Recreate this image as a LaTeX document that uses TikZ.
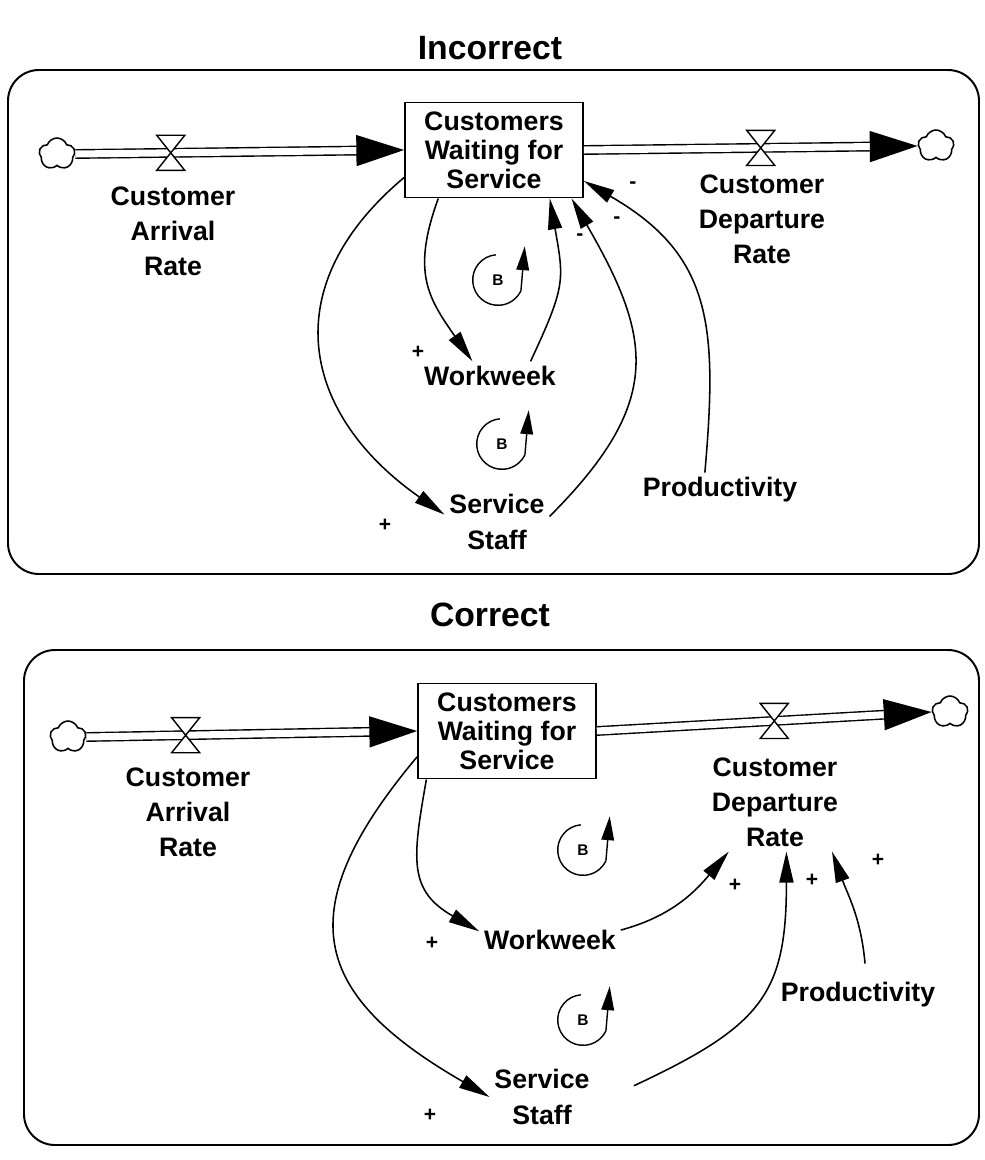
\documentclass[tikz,border=0pt]{standalone}
\usepackage{fontspec}
\setmainfont{Liberation Sans}
\usetikzlibrary{arrows.meta,calc,shapes.symbols}

\begin{document}
\begin{tikzpicture}[
  x=0.25mm, y=0.25mm,
  >={Triangle[length=22pt,width=10pt]},
  every node/.style={font=\bfseries\fontsize{19}{25}\selectfont},
  heading/.style={font=\bfseries\fontsize{24}{30}\selectfont},
  varname/.style={align=center},
  panel/.style={draw, line width=1.4pt, rounded corners=22pt},
  stock/.style={
    draw,
    line width=1.2pt,
    align=center,
    minimum width=44.5mm,
    minimum height=23.8mm,
    inner sep=0pt,
    font=\bfseries\fontsize{19}{20.5}\selectfont
  },
  sink/.style={
    cloud, cloud puffs=5, cloud puff arc=140, cloud ignores aspect,
    draw, line width=1.1pt,
    minimum width=9mm, minimum height=8mm,
    inner sep=0pt
  },
  pipe/.style={draw, double, double distance=5pt, line width=1pt, shorten >=30pt},
  flowtip/.style={-{Triangle[length=34pt,width=22pt]}, line width=1pt},
  link/.style={->, line width=1.1pt},
  sign/.style={font=\bfseries\fontsize{15}{15}\selectfont},
  valve/.pic={
    \filldraw[fill=white, line width=1pt]
      (-10pt,12.5pt) -- (10pt,12.5pt) -- (-10pt,-12.5pt) -- (10pt,-12.5pt) -- cycle;
  },
  loopmark/.pic={
    \node[font=\bfseries\fontsize{11}{11}\selectfont] (-b) {B};
    \draw[-{Triangle[length=17pt,width=9pt]}, line width=1pt]
      (95:18pt) arc[start angle=95, end angle=335, radius=18pt] -- (19pt,24pt);
  }
]
  \useasboundingbox (0,0) rectangle (984,-1160);

  % ---------- incorrect ----------
  \node[heading] (head1) at (490,-48) {Incorrect};
  \draw[panel] (8,-70) rectangle (979,-574);

  \node[stock] (stock1) at (494,-150) {Customers\\Waiting for\\Service};
  \node[sink] (srcA1) at (57,-154) {};
  \node[sink] (snkB1) at (936,-146) {};

  \draw[pipe] (srcA1.east) -- (stock1.west);
  \draw[flowtip] ($(stock1.west)!12pt!(srcA1.east)$) -- (stock1.west);
  \coordinate (vA1) at ($(srcA1.east)!0.29!(stock1.west)$);
  \pic at (vA1) {valve};

  \draw[pipe] (stock1.east) -- (snkB1.west);
  \draw[flowtip] ($(snkB1.west)!12pt!(stock1.east)$) -- (snkB1.west);
  \coordinate (vB1) at ($(stock1.east)!0.53!(snkB1.west)$);
  \pic at (vB1) {valve};

  \node[varname] (arr1) at (173,-231) {Customer\\Arrival\\Rate};
  \node[varname] (dep1) at (762,-219) {Customer\\Departure\\Rate};
  \node (week1) at (490,-376) {Workweek};
  \node[varname] (staff1) at (497,-522) {Service\\Staff};
  \node (prod1) at (720,-490) {Productivity};

  \draw[link] (stock1.221) to[out=-110,in=125,looseness=1.2] (week1.140);
  \draw[link] (week1.20) to[out=65,in=-80,looseness=1.3] (stock1.-41);
  \draw[link] (stock1.197) to[out=-140,in=145,looseness=1.3] (staff1.172);
  \draw[link] (staff1.6) to[out=45,in=-60,looseness=1.3] (stock1.-32);
  \draw[link] (prod1.131) to[out=85,in=-30,looseness=1.2] (stock1.-19);

  \node[sign] (sg1) at (418,-352) {+};
  \node[sign] (sg2) at (580,-237) {-};
  \node[sign] (sg3) at (385,-525) {+};
  \node[sign] (sg4) at (617,-220) {-};
  \node[sign] (sg5) at (633,-185) {-};

  \pic (lpA1) at (498,-280) {loopmark};
  \pic (lpB1) at (502,-444) {loopmark};

  % ---------- correct ----------
  \node[heading] (head2) at (490,-615) {Correct};
  \draw[panel] (24,-650) rectangle (979,-1145);

  \node[stock] (stock2) at (507,-731) {Customers\\Waiting for\\Service};
  \node[sink] (srcA2) at (68,-737) {};
  \node[sink] (snkB2) at (950,-712) {};

  \draw[pipe] (srcA2.east) -- (stock2.west);
  \draw[flowtip] ($(stock2.west)!12pt!(srcA2.east)$) -- (stock2.west);
  \coordinate (vA2) at ($(srcA2.east)!0.30!(stock2.west)$);
  \pic at (vA2) {valve};

  \draw[pipe] (stock2.east) -- (snkB2.west);
  \draw[flowtip] ($(snkB2.west)!12pt!(stock2.east)$) -- (snkB2.west);
  \coordinate (vB2) at ($(stock2.east)!0.53!(snkB2.west)$);
  \pic at (vB2) {valve};

  \node[varname] (arr2) at (188,-812) {Customer\\Arrival\\Rate};
  \node[varname] (dep2) at (775,-802) {Customer\\Departure\\Rate};
  \node (week2) at (550,-940) {Workweek};
  \node[varname] (staff2) at (542,-1097) {Service\\Staff};
  \node (prod2) at (858,-995) {Productivity};

  \draw[link] (stock2.211) to[out=-100,in=150,looseness=1.3] (week2.173);
  \draw[link] (stock2.196) to[out=-130,in=150,looseness=1.5] (staff2.180);
  \draw[link] (week2.8) to[out=15,in=-130] (dep2.-133);
  \draw[link] ([shift={(28pt,8pt)}]staff2.east) to[out=25,in=-90,looseness=1.3] (dep2.-77);
  \draw[link] ([shift={(5pt,10pt)}]prod2.north) to[out=95,in=-70] (dep2.-41);

  \node[sign] (sg6) at (432,-943) {+};
  \node[sign] (sg7) at (430,-1115) {+};
  \node[sign] (sg8) at (735,-885) {+};
  \node[sign] (sg9) at (812,-880) {+};
  \node[sign] (sg10) at (878,-860) {+};

  \pic (lpA2) at (583,-850) {loopmark};
  \pic (lpB2) at (583,-1020) {loopmark};
\end{tikzpicture}
\end{document}
